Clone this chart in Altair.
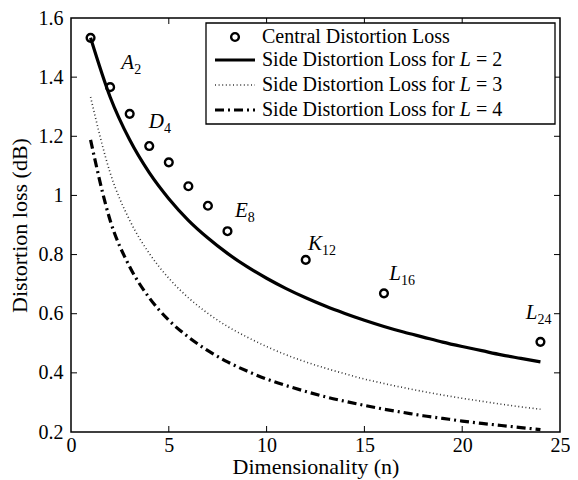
import altair as alt
import pandas as pd

FONT = "Liberation Serif"

# ---- data ----
n_vals = list(range(1, 25))
side_L2 = [1.533, 1.333, 1.188, 1.077, 0.989, 0.916, 0.856, 0.804, 0.759, 0.720,
           0.685, 0.654, 0.626, 0.601, 0.578, 0.557, 0.538, 0.521, 0.504, 0.489,
           0.475, 0.461, 0.449, 0.437]
side_L3 = [1.333, 1.077, 0.916, 0.804, 0.720, 0.654, 0.601, 0.557, 0.521, 0.489,
           0.461, 0.437, 0.416, 0.397, 0.379, 0.364, 0.350, 0.337, 0.325, 0.314,
           0.304, 0.294, 0.285, 0.277]
side_L4 = [1.188, 0.916, 0.759, 0.654, 0.578, 0.521, 0.475, 0.437, 0.406, 0.379,
           0.357, 0.337, 0.319, 0.304, 0.290, 0.277, 0.266, 0.255, 0.246, 0.237,
           0.229, 0.222, 0.215, 0.208]
central_n = [1, 2, 3, 4, 5, 6, 7, 8, 12, 16, 24]
central_loss = [1.533, 1.366, 1.276, 1.167, 1.112, 1.031, 0.965, 0.879, 0.782, 0.669, 0.505]

lattice_letter = ["A", "D", "E", "K", "L", "L"]
lattice_sub = ["2", "4", "8", "12", "16", "24"]
label_n = [3.23, 4.75, 9.04, 12.83, 16.87, 23.85]
label_loss = [1.427, 1.228, 0.928, 0.815, 0.715, 0.582]

x_ticks = [5, 10, 15, 20]
y_ticks = [0.4, 0.6, 0.8, 1.0, 1.2, 1.4]
x_labels = [0, 5, 10, 15, 20, 25]
y_labels = [0.2, 0.4, 0.6, 0.8, 1.0, 1.2, 1.4, 1.6]

legend_text = ["Central Distortion Loss", "Side Distortion Loss for", "Side Distortion Loss for",
               "Side Distortion Loss for"]
legend_L = ["2", "3", "4"]

W, H = 489, 414

xs = alt.Scale(domain=[0, 25], nice=False, zero=False)
ys = alt.Scale(domain=[0.2, 1.6], nice=False, zero=False)

x_axis = alt.Axis(values=x_labels, title="Dimensionality (n)", ticks=False, domain=False,
                  grid=False, labelFont=FONT, labelFontSize=20, labelColor="black",
                  titleFont=FONT, titleFontSize=22, titleFontWeight="normal", titleColor="black",
                  labelPadding=3, titlePadding=1, labelFlush=False)
y_axis = alt.Axis(values=y_labels, title="Distortion loss (dB)", ticks=False, domain=False,
                  grid=False, labelFont=FONT, labelFontSize=20, labelColor="black",
                  titleFont=FONT, titleFontSize=22, titleFontWeight="normal", titleColor="black",
                  labelPadding=8, titlePadding=7, labelFlush=False,
                  labelExpr="datum.value == 1 ? '1' : format(datum.value, '.1f')")

X = alt.X("n:Q", scale=xs, axis=x_axis)
Y = alt.Y("loss:Q", scale=ys, axis=y_axis)

def line_layer(vals, **kw):
    df = pd.DataFrame({"n": n_vals, "loss": vals})
    return alt.Chart(df).mark_line(color="black", interpolate="monotone", **kw).encode(x=X, y=Y)

DOT = dict(strokeWidth=1.6, strokeDash=[1, 2.6], opacity=0.8)
DASHDOT = dict(strokeWidth=3.2, strokeDash=[9, 4, 2, 4])

l2 = line_layer(side_L2, strokeWidth=3.2)
l3 = line_layer(side_L3, **DOT)
l4 = line_layer(side_L4, **DASHDOT)

pts = alt.Chart(pd.DataFrame({"n": central_n, "loss": central_loss})).mark_point(
    shape="circle", filled=False, color="black", strokeWidth=2.4, size=60, opacity=1
).encode(x=X, y=Y)

lab_df = pd.DataFrame({"n": label_n, "loss": label_loss, "letter": lattice_letter, "sub": lattice_sub})
lab_letter = alt.Chart(lab_df).mark_text(
    font=FONT, fontSize=21, fontStyle="italic", align="right", baseline="alphabetic", color="black"
).encode(x=X, y=Y, text="letter:N")
lab_sub = alt.Chart(lab_df).mark_text(
    font=FONT, fontSize=14, align="left", baseline="alphabetic", dy=5, color="black"
).encode(x=X, y=Y, text="sub:N")

# inward tick marks on all four sides
xt = pd.DataFrame({"n": x_ticks})
yt = pd.DataFrame({"loss": y_ticks})
tick_b = alt.Chart(xt).mark_rule(color="black", strokeWidth=1).encode(x=X, y=alt.value(H), y2=alt.value(H - 6))
tick_t = alt.Chart(xt).mark_rule(color="black", strokeWidth=1).encode(x=X, y=alt.value(0), y2=alt.value(6))
tick_l = alt.Chart(yt).mark_rule(color="black", strokeWidth=1).encode(y=Y, x=alt.value(0), x2=alt.value(6))
tick_r = alt.Chart(yt).mark_rule(color="black", strokeWidth=1).encode(y=Y, x=alt.value(W), x2=alt.value(W - 6))

# legend (drawn manually)
one = pd.DataFrame({"a": [0]})
LX0, LX1, LY0, LY1 = 135, 484, 5, 106
rows = [19, 42, 67, 92]
sym_x0, sym_x1, txt_x = 144, 184, 191
leg_box = alt.Chart(one).mark_rect(fill="white", stroke="black", strokeWidth=1.3).encode(
    x=alt.value(LX0), x2=alt.value(LX1), y=alt.value(LY0), y2=alt.value(LY1))
leg_pt = alt.Chart(one).mark_point(shape="circle", filled=False, color="black", strokeWidth=2.4,
                                   size=60, opacity=1).encode(
    x=alt.value((sym_x0 + sym_x1) / 2), y=alt.value(rows[0]))
leg_l2 = alt.Chart(one).mark_rule(color="black", strokeWidth=3.2).encode(
    x=alt.value(sym_x0), x2=alt.value(sym_x1), y=alt.value(rows[1]))
leg_l3 = alt.Chart(one).mark_rule(color="black", **DOT).encode(
    x=alt.value(sym_x0), x2=alt.value(sym_x1), y=alt.value(rows[2]))
leg_l4 = alt.Chart(one).mark_rule(color="black", **DASHDOT).encode(
    x=alt.value(sym_x0), x2=alt.value(sym_x1), y=alt.value(rows[3]))

leg_texts = []
for i, t in enumerate(legend_text):
    leg_texts.append(alt.Chart(one).mark_text(
        font=FONT, fontSize=20, align="left", baseline="middle", color="black", text=t
    ).encode(x=alt.value(txt_x), y=alt.value(rows[i])))
base_w = 192.8 + 5
for i, Lv in enumerate(legend_L):
    leg_texts.append(alt.Chart(one).mark_text(
        font=FONT, fontSize=20, fontStyle="italic", align="left", baseline="middle", color="black", text="L"
    ).encode(x=alt.value(txt_x + base_w), y=alt.value(rows[i + 1])))
    leg_texts.append(alt.Chart(one).mark_text(
        font=FONT, fontSize=20, align="left", baseline="middle", color="black", text="= " + Lv
    ).encode(x=alt.value(txt_x + base_w + 11.1 + 5), y=alt.value(rows[i + 1])))

chart = alt.layer(
    l3, l4, l2, pts, lab_letter, lab_sub,
    tick_b, tick_t, tick_l, tick_r,
    leg_box, leg_pt, leg_l2, leg_l3, leg_l4, *leg_texts
).properties(
    width=W, height=H, autosize="none", background="white",
    padding={"left": 63, "top": 10, "right": 10, "bottom": 48}
).configure_view(stroke="black", strokeWidth=1.5)

chart.save("out.html", embed_options={"renderer": "svg", "actions": False})
